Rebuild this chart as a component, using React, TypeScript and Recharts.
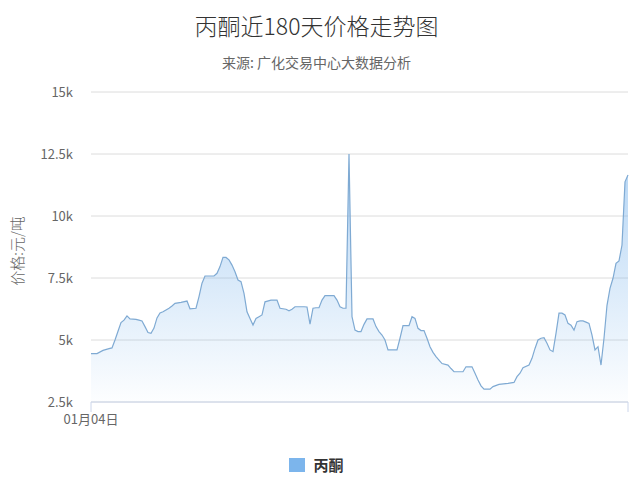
import { AreaChart, Area, XAxis, YAxis, CartesianGrid } from 'recharts';

// day index from 01月04日, price in 元/吨
const days = [
  0, 2, 4, 6, 7, 8, 9, 10, 11, 12, 13, 15, 16, 17, 18, 19, 20, 21, 22, 23, 24, 25, 26, 27, 28, 30, 32, 33, 35, 36,
  37, 38, 41, 42, 43, 44, 45, 46, 47, 48, 49, 50, 51, 52, 53, 54, 55, 56, 57, 58, 60, 62, 63, 65, 66, 67, 68, 71, 72,
  73, 74, 75, 76, 77, 78, 81, 82, 83, 84, 85, 86, 87, 88, 89, 90, 91, 92, 94, 95, 96, 97, 98, 99, 102, 103, 104, 106,
  107, 108, 109, 110, 111, 112, 113, 114, 115, 116, 117, 119, 120, 121, 124, 125, 127, 128, 129, 130, 131, 133, 134,
  136, 139, 141, 142, 143, 144, 146, 147, 148, 149, 150, 151, 152, 153, 154, 155, 156, 157, 158, 159, 160, 161, 162,
  163, 164, 165, 166, 167, 168, 169, 170, 171, 172, 173, 174, 175, 176, 177, 178, 179,
];

const prices = [
  4450, 4450, 4580, 4650, 4680, 5000, 5350, 5700, 5800, 5970, 5850, 5830, 5800, 5770, 5540, 5300, 5270, 5480, 5890,
  6090, 6140, 6210, 6280, 6370, 6480, 6520, 6570, 6260, 6280, 6750, 7290, 7580, 7580, 7690, 7960, 8330, 8330, 8230,
  8020, 7750, 7420, 7350, 6880, 6140, 5870, 5600, 5870, 5940, 6010, 6540, 6610, 6610, 6280, 6240, 6180, 6240, 6340,
  6340, 6330, 5640, 6280, 6300, 6300, 6610, 6790, 6790, 6610, 6340, 6280, 6280, 12500, 5940, 5400, 5340, 5340, 5630,
  5850, 5850, 5540, 5340, 5200, 5000, 4600, 4600, 5070, 5580, 5580, 5940, 5870, 5470, 5380, 5380, 5070, 4730, 4500,
  4330, 4190, 4050, 3990, 3850, 3720, 3720, 3920, 3920, 3660, 3390, 3150, 3020, 3020, 3120, 3210, 3250, 3290, 3520,
  3660, 3880, 3990, 4260, 4660, 5000, 5070, 5090, 4870, 4600, 4530, 5270, 6080, 6080, 6010, 5670, 5600, 5400, 5740,
  5770, 5770, 5720, 5670, 5200, 4600, 4730, 3990, 5070, 6400, 7080, 7490, 8090, 8190, 8830, 11380, 11650,
];

const yTicks = [2500, 5000, 7500, 10000, 12500, 15000];
const xTicks = [0, 179];
const xLabels = ['01月04日', ''];

const data = days.map((day, i) => ({ day, price: prices[i] }));

const font = '"Noto Sans CJK SC", "Noto Sans", sans-serif';

export default function App() {
  return (
    <div
      style={{
        position: 'fixed',
        left: 0,
        top: 0,
        width: 633,
        height: 479,
        background: '#fff',
        fontFamily: font,
      }}
    >
      <div
        style={{
          position: 'absolute',
          top: 9,
          width: '100%',
          textAlign: 'center',
          fontSize: 23,
          fontWeight: 300,
          color: '#333',
          lineHeight: '32px',
        }}
      >
        丙酮近180天价格走势图
      </div>
      <div
        style={{
          position: 'absolute',
          top: 52,
          width: '100%',
          textAlign: 'center',
          fontSize: 14,
          color: '#666',
          lineHeight: '20px',
        }}
      >
        来源: 广化交易中心大数据分析
      </div>
      <div
        style={{
          position: 'absolute',
          left: 16,
          top: 251,
          transform: 'translate(-50%, -50%) rotate(-90deg)',
          fontSize: 15,
          fontWeight: 300,
          color: '#666',
          whiteSpace: 'nowrap',
        }}
      >
        价格:元/吨
      </div>

      <AreaChart width={633} height={479} data={data} margin={{ top: 92, right: 5, bottom: 47, left: 0 }}>
        <defs>
          <linearGradient id="acetoneFill" x1="0" y1="0" x2="0" y2="1">
            <stop offset="0%" stopColor="#7cb5ec" stopOpacity={0.95} />
            <stop offset="100%" stopColor="#7cb5ec" stopOpacity={0.03} />
          </linearGradient>
        </defs>
        <CartesianGrid vertical={false} stroke="#dcdcdc" />
        <XAxis
          dataKey="day"
          type="number"
          domain={[0, 179]}
          ticks={xTicks}
          tickFormatter={(d) => (d === 0 ? xLabels[0] : xLabels[1])}
          height={30}
          stroke="#ccd6eb"
          tickSize={10}
          tickMargin={3}
          tick={{ fill: '#666', fontSize: 13, fontFamily: font }}
          interval={0}
        />
        <YAxis
          domain={[2500, 15000]}
          ticks={yTicks}
          width={91}
          axisLine={false}
          tickLine={false}
          tickSize={0}
          tickMargin={18}
          tickFormatter={(v) => `${v / 1000}k`}
          tick={{ fill: '#666', fontSize: 13, fontFamily: font }}
        />
        <Area
          type="linear"
          dataKey="price"
          stroke="#7faad3"
          strokeWidth={1.2}
          fill="url(#acetoneFill)"
          isAnimationActive={false}
          dot={false}
          activeDot={false}
        />
      </AreaChart>

      <div
        style={{
          position: 'absolute',
          top: 456,
          left: 0,
          width: '100%',
          display: 'flex',
          justifyContent: 'center',
          alignItems: 'center',
          gap: 8,
        }}
      >
        <span style={{ width: 16, height: 14, background: '#7cb5ec', display: 'inline-block' }} />
        <span style={{ fontSize: 15, fontWeight: 'bold', color: '#333', lineHeight: '18px' }}>丙酮</span>
      </div>
    </div>
  );
}
